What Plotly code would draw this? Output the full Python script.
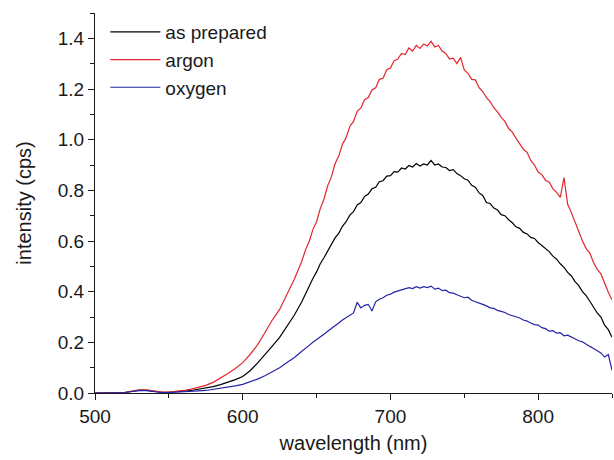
import plotly.graph_objects as go

wavelength = [
    500, 505, 510, 515, 520, 525, 530, 535, 540, 545, 550, 555, 560, 565, 570,
    575, 580, 585, 590, 595, 600, 605, 610, 615, 620, 625, 630, 635, 640,
    642.5, 645, 647.5, 650, 652.5, 655, 657.5, 660, 662.5, 665, 667.5, 670,
    672.5, 675, 677.5, 680, 682.5, 685, 687.5, 690, 692.5, 695, 697.5, 700,
    702.5, 705, 707.5, 710, 712.5, 715, 717.5, 720, 722.5, 725, 727.5, 730,
    732.5, 735, 737.5, 740, 742.5, 745, 747.5, 750, 752.5, 755, 757.5, 760,
    762.5, 765, 767.5, 770, 772.5, 775, 777.5, 780, 782.5, 785, 787.5, 790,
    792.5, 795, 797.5, 800, 802.5, 805, 807.5, 810, 812.5, 815, 817.5, 820,
    822.5, 825, 827.5, 830, 832.5, 835, 837.5, 840, 842.5, 845, 847.5, 850,
]

as_prepared = [
    0, 0, 0, 0, 0.002, 0.006, 0.010, 0.010, 0.006, 0.003, 0.003, 0.004, 0.007, 0.010, 0.014,
    0.019, 0.025, 0.033, 0.042, 0.053, 0.065, 0.088, 0.118, 0.150, 0.185, 0.220, 0.262, 0.308, 0.360,
    0.392, 0.418, 0.452, 0.478, 0.510, 0.534, 0.562, 0.584, 0.612, 0.630, 0.658, 0.676,
    0.702, 0.716, 0.742, 0.752, 0.776, 0.785, 0.806, 0.812, 0.834, 0.838, 0.856, 0.858,
    0.874, 0.872, 0.888, 0.884, 0.898, 0.892, 0.906, 0.896, 0.904, 0.900, 0.918, 0.900,
    0.904, 0.892, 0.890, 0.878, 0.882, 0.866, 0.858, 0.846, 0.840, 0.820, 0.812, 0.790,
    0.780, 0.752, 0.748, 0.730, 0.722, 0.704, 0.700, 0.684, 0.672, 0.656, 0.650, 0.634,
    0.628, 0.614, 0.610, 0.594, 0.582, 0.572, 0.558, 0.540, 0.528, 0.510, 0.496, 0.476,
    0.462, 0.440, 0.424, 0.400, 0.384, 0.362, 0.340, 0.316, 0.300, 0.268, 0.250, 0.220,
]

argon = [
    0, 0, 0, 0, 0.002, 0.008, 0.012, 0.012, 0.008, 0.004, 0.004, 0.006, 0.010, 0.015, 0.021,
    0.030, 0.042, 0.058, 0.077, 0.097, 0.120, 0.152, 0.190, 0.238, 0.288, 0.330, 0.392, 0.450, 0.520,
    0.565, 0.598, 0.645, 0.676, 0.728, 0.765, 0.818, 0.852, 0.905, 0.935, 0.982, 1.008,
    1.052, 1.072, 1.112, 1.125, 1.158, 1.166, 1.196, 1.205, 1.238, 1.242, 1.276, 1.283,
    1.312, 1.318, 1.340, 1.336, 1.362, 1.350, 1.372, 1.360, 1.378, 1.370, 1.388, 1.366,
    1.372, 1.350, 1.340, 1.318, 1.322, 1.300, 1.325, 1.275, 1.262, 1.238, 1.236, 1.205,
    1.190, 1.166, 1.150, 1.126, 1.110, 1.088, 1.072, 1.044, 1.030, 1.006, 0.985, 0.962,
    0.950, 0.918, 0.900, 0.872, 0.862, 0.840, 0.832, 0.806, 0.792, 0.772, 0.850, 0.745,
    0.712, 0.672, 0.640, 0.600, 0.570, 0.552, 0.515, 0.488, 0.470, 0.430, 0.398, 0.368,
]

oxygen = [
    0, 0, 0, 0, 0.002, 0.006, 0.010, 0.009, 0.005, 0.002, 0.002, 0.003, 0.004, 0.006, 0.008,
    0.010, 0.014, 0.018, 0.023, 0.028, 0.034, 0.043, 0.055, 0.068, 0.083, 0.100, 0.120, 0.140, 0.165,
    0.178, 0.188, 0.200, 0.210, 0.222, 0.232, 0.244, 0.254, 0.266, 0.276, 0.288, 0.298,
    0.306, 0.316, 0.358, 0.336, 0.346, 0.350, 0.324, 0.360, 0.370, 0.376, 0.386, 0.390,
    0.398, 0.402, 0.408, 0.410, 0.416, 0.412, 0.420, 0.414, 0.420, 0.416, 0.422, 0.410,
    0.414, 0.404, 0.406, 0.396, 0.394, 0.388, 0.382, 0.376, 0.378, 0.366, 0.360, 0.356,
    0.350, 0.344, 0.336, 0.334, 0.326, 0.322, 0.318, 0.310, 0.306, 0.300, 0.296, 0.288,
    0.284, 0.276, 0.270, 0.268, 0.258, 0.254, 0.244, 0.246, 0.236, 0.238, 0.226, 0.228,
    0.220, 0.214, 0.206, 0.202, 0.192, 0.184, 0.176, 0.166, 0.158, 0.142, 0.152, 0.090,
]

series = [
    ("as prepared", as_prepared, "#000000"),
    ("argon", argon, "#e3262c"),
    ("oxygen", oxygen, "#2424a8"),
]

x_ticks = [500, 600, 700, 800]
y_ticks = [0.0, 0.2, 0.4, 0.6, 0.8, 1.0, 1.2, 1.4]
y_tick_labels = ["0.0", "0.2", "0.4", "0.6", "0.8", "1.0", "1.2", "1.4"]

fig = go.Figure()
for name, vals, color in series:
    fig.add_trace(go.Scatter(x=wavelength, y=vals, mode="lines", name=name,
                             line=dict(color=color, width=1.2)))

font_family = "Liberation Sans, Arial, sans-serif"
fig.update_layout(
    width=614, height=460,
    margin=dict(l=95, r=2, t=13, b=67),
    paper_bgcolor="white", plot_bgcolor="white",
    font=dict(family=font_family, size=19, color="#1a1a1a"),
    showlegend=True,
    legend=dict(x=0.02, y=1.0, xanchor="left", yanchor="top",
                bgcolor="rgba(0,0,0,0)", font=dict(size=19, color="#1a1a1a"),
                tracegroupgap=0, itemwidth=50),
)
fig.update_xaxes(
    range=[500, 850], showline=True, linecolor="#1a1a1a", linewidth=1,
    showgrid=False, zeroline=False, mirror=False, automargin=False,
    tickmode="array", tickvals=x_ticks, ticks="outside", ticklen=6, tickwidth=1,
    tickcolor="#1a1a1a",
    minor=dict(ticks="outside", ticklen=4, tickwidth=1, tickcolor="#1a1a1a",
               dtick=50, tick0=500, showgrid=False),
    title=dict(text="wavelength (nm)", standoff=10, font=dict(size=20)),
    tickfont=dict(size=19),
)
fig.update_yaxes(
    range=[0, 1.5], showline=True, linecolor="#1a1a1a", linewidth=1,
    showgrid=False, zeroline=False, mirror=False, automargin=False,
    tickmode="array", tickvals=y_ticks, ticktext=y_tick_labels,
    ticks="outside", ticklen=6, tickwidth=1, tickcolor="#1a1a1a",
    minor=dict(ticks="outside", ticklen=4, tickwidth=1, tickcolor="#1a1a1a",
               dtick=0.1, tick0=0, showgrid=False),
    title=dict(text="intensity (cps)", standoff=20, font=dict(size=20)),
    tickfont=dict(size=19),
)

fig.write_html(
    "out.html",
    config={"displayModeBar": False},
    post_script="document.body.style.margin='0';document.body.style.overflow='hidden';",
)
